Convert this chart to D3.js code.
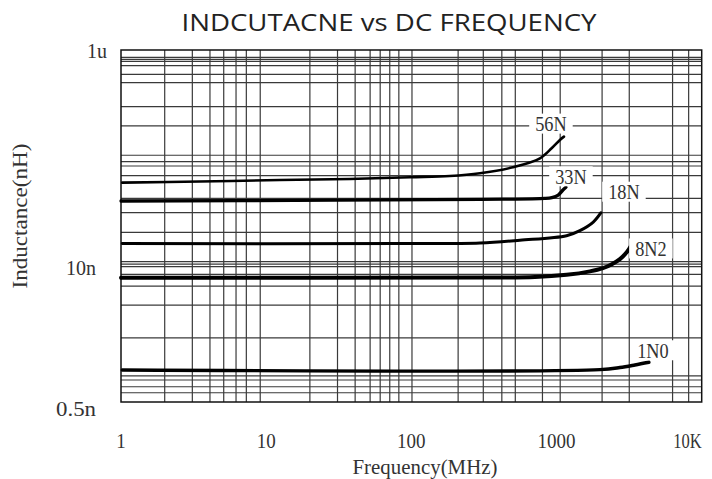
<!DOCTYPE html>
<html><head><meta charset="utf-8">
<script src="https://cdn.jsdelivr.net/npm/d3@7"></script>
<style>body{margin:0;background:#fff}</style>
</head><body><svg id="c" width="712" height="479"></svg>
<script>
// ---- data ----
const xTickValues = [1, 10, 100, 1000, 10000];
const xTickLabels = ["1", "10", "100", "1000", "10K"];
const yTickValues = [1000, 10, 0.5];
const yTickLabels = ["1u", "10n", "0.5n"];
const gridXValues = [2, 3.1, 4.1, 5.1, 6.2, 7.3, 9.1, 20, 31, 41, 52, 61, 71, 82, 101, 210, 313, 420, 520, 800, 1060, 2060, 3170, 6300, 8130];
const gridYValues = [856, 821, 787, 717, 597, 500, 300, 200, 107, 93.3, 85.2, 69.3, 42.8, 31.6, 20.8, 11.2, 10.6, 10.04, 8.55, 6.66, 4.45, 2.22, 0.99, 0.906, 0.785, 0.691];
const seriesNames = ["56N", "33N", "18N", "8N2", "1N0"];
const s56N = [[1.02,59.8],[3.5,61.3],[12.4,63.2],[37.8,64.7],[98,67.1],[184,68.9],[297,73],[500,82.9],[769,100.3],[925,124],[1055,148],[1125,159]];
const s33N = [[1.0,40.5],[30,41.2],[300,42.0],[832,42.8],[929,43.6],[1027,46],[1107,51.2],[1161,54.2]];
const s18N = [[1.02,16.4],[83.5,16.4],[297,16.6],[559,17.6],[1173,19.4],[1449,21.6],[1791,25.9],[2023,31.6]];
const s8N2 = [[1.0,7.95],[300,7.97],[710,8.05],[1173,8.45],[1698,9.1],[2087,9.75],[2407,10.6],[2733,11.8],[3053,13.7],[3253,15.6]];
const s1N0 = [[1.02,1.12],[1991,1.13],[2733,1.18],[3467,1.246],[4329,1.32]];
const seriesData = [s56N, s33N, s18N, s8N2, s1N0];

// ---- layout ----
const plotLeft = 121, plotRight = 701.7, plotTop = 50, plotBottom = 402, scaleBottom = 408;
const strokeWidths = [2.6, 3.3, 3.0, 4.0, 3.4];
const labelOffsets = [[-13,-13],[5,-11],[23,-21],[20,2.5],[4,-12]];

const svg = d3.select("#c");
const x = d3.scaleLog().domain([1, 10000]).range([plotLeft, plotRight]);
const y = d3.scaleLog().domain([0.5, 1000]).range([scaleBottom, plotTop]);

// grid
const g = svg.append("g");
g.selectAll(".gx").data(gridXValues).join("line")
  .attr("x1", d => x(d)).attr("x2", d => x(d))
  .attr("y1", plotTop).attr("y2", plotBottom)
  .attr("stroke", "#3a3a3a").attr("stroke-width", 1.2);
g.selectAll(".gy").data(gridYValues).join("line")
  .attr("x1", plotLeft).attr("x2", plotRight)
  .attr("y1", d => y(d)).attr("y2", d => y(d))
  .attr("stroke", "#3a3a3a").attr("stroke-width", 1.2);
svg.append("rect").attr("x", plotLeft).attr("y", plotTop)
  .attr("width", plotRight - plotLeft).attr("height", plotBottom - plotTop)
  .attr("fill", "none").attr("stroke", "#111").attr("stroke-width", 1.5);

// curves
const line = d3.line().x(d => x(d[0])).y(d => y(d[1])).curve(d3.curveCatmullRom.alpha(0.5));
seriesData.forEach((s, i) => {
  svg.append("path").attr("d", line(s)).attr("fill", "none")
    .attr("stroke", "#000").attr("stroke-width", strokeWidths[i])
    .attr("stroke-linecap", "round");
});

// curve labels
const serif = "'Liberation Serif', 'DejaVu Serif', serif";
seriesData.forEach((s, i) => {
  const last = s[s.length - 1];
  const cx = x(last[0]) + labelOffsets[i][0];
  const cy = y(last[1]) + labelOffsets[i][1];
  const w = seriesNames[i].length * 10.5;
  svg.append("rect").attr("x", cx - w/2 - 6).attr("y", cy - 10).attr("width", w + 12).attr("height", 20).attr("fill", "#fff");
  svg.append("text").attr("x", cx).attr("y", cy).attr("dy", "0.35em")
    .attr("text-anchor", "middle").attr("font-family", serif).attr("font-size", 22)
    .attr("textLength", w).attr("lengthAdjust", "spacingAndGlyphs")
    .attr("fill", "#333").text(seriesNames[i]);
});

// x tick labels
svg.selectAll(".xt").data(xTickValues).join("text")
  .attr("x", d => x(d))
  .attr("text-anchor", (d, i) => i === xTickValues.length - 1 ? "end" : "middle")
  .attr("y", 440).attr("dy", "0.35em")
  .attr("font-family", serif).attr("font-size", 22).attr("fill", "#333")
  .attr("textLength", (d, i) => xTickLabels[i].length * 9.5).attr("lengthAdjust", "spacingAndGlyphs")
  .text((d, i) => xTickLabels[i]);

// y tick labels
svg.selectAll(".yt").data(yTickValues).join("text")
  .attr("x", d => d === 1000 ? 107 : 96)
  .attr("y", d => y(d)).attr("dy", "0.35em").attr("text-anchor", "end")
  .attr("font-family", serif).attr("font-size", 22).attr("fill", "#333")
  .attr("textLength", (d, i) => yTickLabels[i].length * 10).attr("lengthAdjust", "spacingAndGlyphs")
  .text((d, i) => yTickLabels[i]);

// axis titles
svg.append("text").attr("x", 425).attr("y", 467).attr("dy", "0.35em")
  .attr("text-anchor", "middle").attr("font-family", serif).attr("font-size", 20)
  .attr("fill", "#333").attr("textLength", 145).attr("lengthAdjust", "spacingAndGlyphs")
  .text("Frequency(MHz)");
svg.append("text").attr("transform", "translate(20,216) rotate(-90)").attr("dy", "0.35em")
  .attr("text-anchor", "middle").attr("font-family", serif).attr("font-size", 20)
  .attr("fill", "#333").attr("textLength", 145).attr("lengthAdjust", "spacingAndGlyphs")
  .text("Inductance(nH)");

// title
svg.append("text").attr("x", 389).attr("y", 31)
  .attr("text-anchor", "middle").attr("font-family", "'Open Sans', sans-serif").attr("font-size", 24)
  .attr("fill", "#222").attr("textLength", 415).attr("lengthAdjust", "spacingAndGlyphs")
  .text("INDCUTACNE vs DC FREQUENCY");
</script></body></html>
